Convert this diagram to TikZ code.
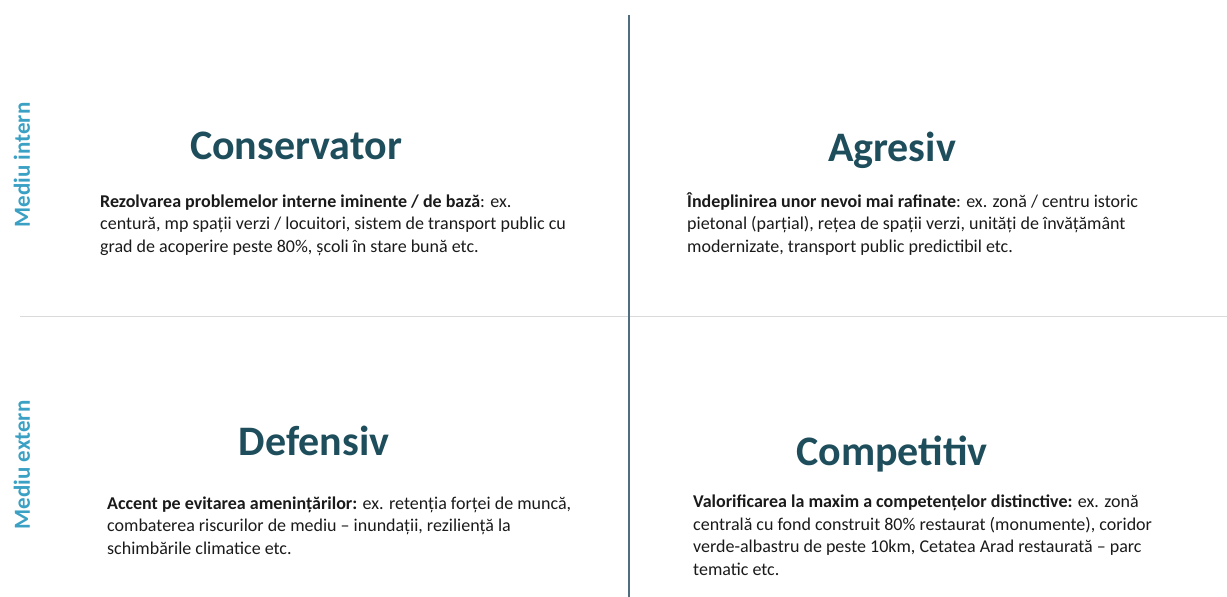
\documentclass[tikz,border=0pt]{standalone}
\usepackage{fontspec}
\setmainfont{Carlito}
\definecolor{titlec}{HTML}{1E4D5C}
\definecolor{sidec}{HTML}{3AA0C4}
\definecolor{vline}{HTML}{4F6F80}
\definecolor{hline}{HTML}{DADADA}
\definecolor{bodyc}{HTML}{1A1A1A}
\tikzset{
  title/.style={text=titlec, font=\fontsize{42}{48}\selectfont\bfseries, anchor=base, inner sep=0pt},
  side/.style={text=sidec, font=\fontsize{23}{28}\selectfont\bfseries, rotate=90, inner sep=0pt},
  body/.style={text=bodyc, font=\fontsize{18}{22.5}\selectfont, align=left, anchor=base west, inner sep=0pt},
}
\begin{document}
\begin{tikzpicture}[x=1pt,y=-1pt]
\useasboundingbox (0,0) rectangle (1227,597);
\coordinate (vt) at (629,15);
\coordinate (vb) at (629,597);
\coordinate (hl) at (20,316);
\coordinate (hr) at (1227,316);
\draw[hline, line width=1pt] (hl) -- (hr);
\draw[vline, line width=1.3pt] (vt) -- (vb);

\node[side] (mi) at (22,165) {Mediu intern};
\node[side] (me) at (22,465) {Mediu extern};

\node[title] (t1) at (296,159) {Conservator};
\node[title] (t2) at (892,161) {Agresiv};
\node[title] (t3) at (314,455) {Defensiv};
\node[title] (t4) at (892,465) {Competitiv};

\node[body] (b1) at (100,252) {\textbf{Rezolvarea problemelor interne iminente / de bază}: ex.\\centură, mp spații verzi / locuitori, sistem de transport public cu\\grad de acoperire peste 80\%, școli în stare bună etc.};
\node[body] (b2) at (687,252) {\textbf{Îndeplinirea unor nevoi mai rafinate}: ex. zonă / centru istoric\\pietonal (parțial), rețea de spații verzi, unități de învățământ\\modernizate, transport public predictibil etc.};
\node[body] (b3) at (107,554) {\textbf{Accent pe evitarea amenințărilor:} ex. retenția forței de muncă,\\combaterea riscurilor de mediu – inundații, reziliență la\\schimbările climatice etc.};
\node[body] (b4) at (693,575) {\textbf{Valorificarea la maxim a competențelor distinctive:} ex. zonă\\centrală cu fond construit 80\% restaurat (monumente), coridor\\verde-albastru de peste 10km, Cetatea Arad restaurată – parc\\tematic etc.};
\end{tikzpicture}
\end{document}
